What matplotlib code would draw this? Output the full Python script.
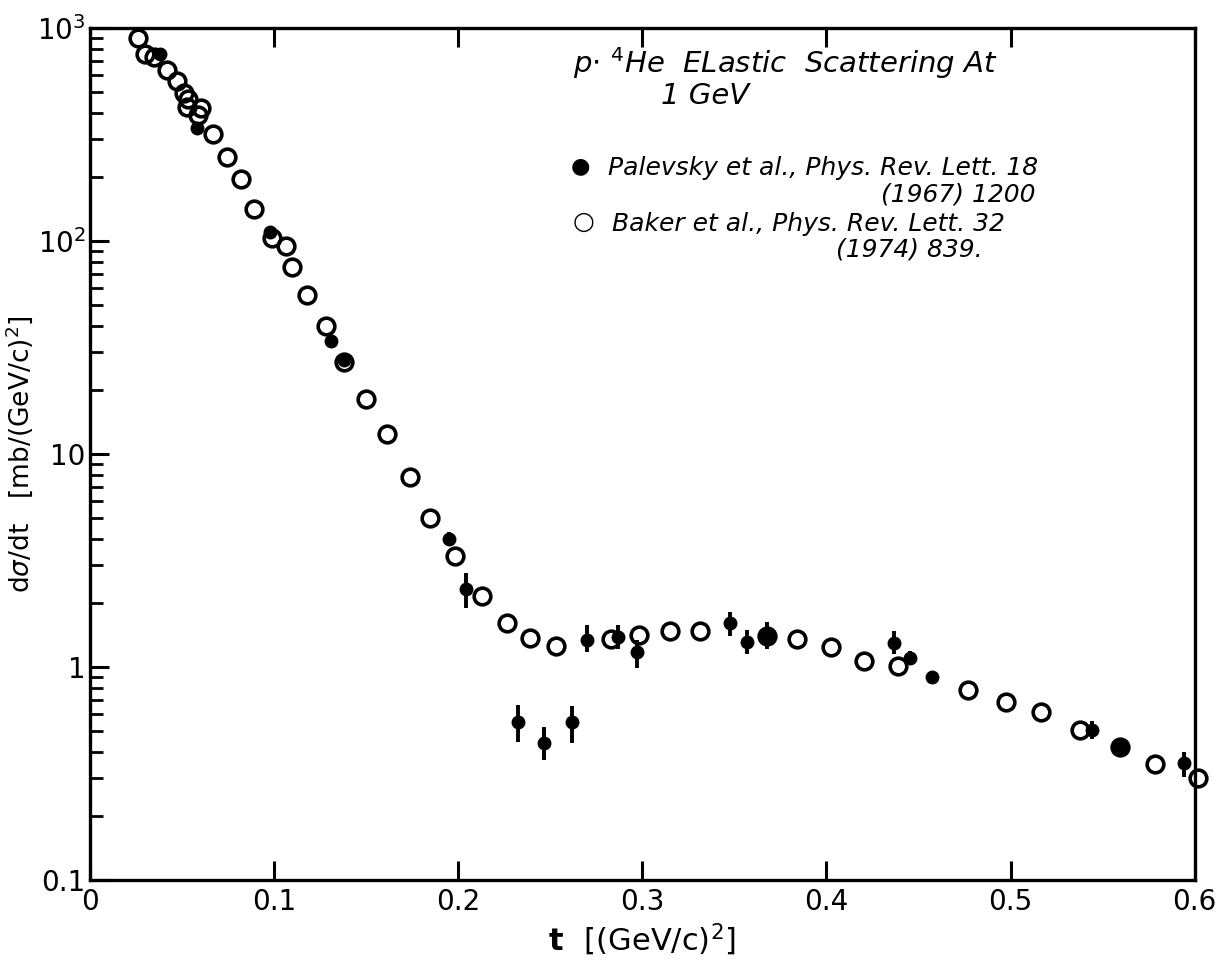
import numpy as np
import matplotlib
matplotlib.use('Agg')
import matplotlib.pyplot as plt
from matplotlib.ticker import FixedLocator, LogLocator, NullFormatter

# Baker et al. (open circles)
t_baker = [0.0261, 0.0299, 0.0347, 0.0418, 0.0472, 0.0510, 0.0532, 0.0527,
           0.0603, 0.0586, 0.0668, 0.0744, 0.0820, 0.0890, 0.0988, 0.1064,
           0.1097, 0.1178, 0.1281, 0.1379, 0.1498, 0.1612, 0.1737, 0.1846,
           0.1982, 0.2128, 0.2264, 0.2389, 0.2530, 0.2828, 0.2980, 0.3149,
           0.3312, 0.3675, 0.3838, 0.4023, 0.4202, 0.4387, 0.4767, 0.4973,
           0.5168, 0.5375, 0.5592, 0.5787, 0.6020]
y_baker = [897, 755, 731, 635, 564, 495, 464, 426,
           421, 391, 318, 248, 195, 141, 103, 95,
           75.5, 56, 40, 27, 18.1, 12.4, 7.8, 5.0,
           3.32, 2.15, 1.61, 1.37, 1.25, 1.35, 1.41, 1.48,
           1.48, 1.40, 1.35, 1.24, 1.07, 1.01, 0.78, 0.685,
           0.615, 0.506, 0.421, 0.351, 0.301]

# Palevsky et al. (filled circles with error bars)
t_pal = [0.0380, 0.0581, 0.0977, 0.1308, 0.1379, 0.1949, 0.2041, 0.2324,
         0.2465, 0.2617, 0.2698, 0.2866, 0.2970, 0.3474, 0.3567, 0.3675,
         0.4365, 0.4452, 0.4571, 0.5440, 0.5592, 0.5945]
y_pal = [755, 340, 110, 34, 27.5, 4.0, 2.32, 0.552,
         0.44, 0.552, 1.34, 1.39, 1.18, 1.61, 1.31, 1.40,
         1.30, 1.10, 0.897, 0.506, 0.421, 0.354]
y_pal_lo = [755, 340, 110, 34, 27.5, 3.8, 1.89, 0.445,
            0.366, 0.44, 1.18, 1.22, 0.99, 1.40, 1.15, 1.21,
            1.15, 1.02, 0.85, 0.46, 0.39, 0.305]
y_pal_hi = [755, 340, 110, 34, 27.5, 4.3, 2.76, 0.664,
            0.522, 0.653, 1.57, 1.58, 1.34, 1.81, 1.49, 1.62,
            1.48, 1.19, 0.95, 0.56, 0.46, 0.40]

x_ticks = [0, 0.1, 0.2, 0.3, 0.4, 0.5, 0.6]
x_ticklabels = ['0', '0.1', '0.2', '0.3', '0.4', '0.5', '0.6']
y_ticks = [0.1, 1, 10, 100, 1000]
y_ticklabels = ['0.1', '1', '10', r'$10^2$', r'$10^3$']

fig = plt.figure(figsize=(12.24, 9.73), dpi=100)
ax = fig.add_axes([0.0735, 0.0956, 0.9025, 0.8755])

yerr = [np.array(y_pal) - np.array(y_pal_lo), np.array(y_pal_hi) - np.array(y_pal)]
ax.errorbar(t_pal, y_pal, yerr=yerr, fmt='o', color='black', ms=9,
            mfc='black', mec='black', elinewidth=2.8, capsize=0, zorder=3,
            clip_on=False)
ax.plot(t_baker, y_baker, 'o', ms=12, mfc='none', mec='black', mew=2.6,
        zorder=4, clip_on=False)

ax.set_yscale('log')
ax.set_xlim(0, 0.6)
ax.set_ylim(0.1, 1000)

ax.xaxis.set_major_locator(FixedLocator(x_ticks))
ax.set_xticklabels(x_ticklabels)
ax.yaxis.set_major_locator(FixedLocator(y_ticks))
ax.set_yticklabels(y_ticklabels)
ax.yaxis.set_minor_locator(LogLocator(base=10, subs=np.arange(2, 10)))
ax.yaxis.set_minor_formatter(NullFormatter())

ax.tick_params(axis='both', which='major', direction='in', length=14, width=2.2,
               labelsize=20, pad=6)
ax.tick_params(axis='y', which='major', pad=3)
ax.tick_params(axis='y', which='minor', direction='in', length=9, width=2.0)
ax.tick_params(axis='x', top=True)
ax.tick_params(axis='y', right=False, which='both')
for s in ax.spines.values():
    s.set_linewidth(2.4)

ax.set_xlabel(r't  $[(\mathrm{GeV/c})^2]$', fontsize=22, fontweight='bold')
ax.set_ylabel(r'd$\sigma$/dt   $[\mathrm{mb/(GeV/c)^2}]$', fontsize=19)
ax.yaxis.set_label_coords(-0.05, 0.5)

hand = dict(style='italic', fontsize=21, family='DejaVu Sans', color='black')
fig.text(0.468, 0.925, r'p$\cdot$ $^4$He  ELastic  Scattering At', **hand)
fig.text(0.54, 0.893, '1 GeV', **hand)

fig.text(0.466, 0.823, '\u25cf', fontsize=16, color='black')
fig.text(0.497, 0.820, 'Palevsky et al., Phys. Rev. Lett. 18', **dict(hand, fontsize=18))
fig.text(0.72, 0.793, '(1967) 1200', **dict(hand, fontsize=18))
fig.text(0.468, 0.765, '\u25cb', fontsize=18, color='black')
fig.text(0.50, 0.763, 'Baker et al., Phys. Rev. Lett. 32', **dict(hand, fontsize=18))
fig.text(0.683, 0.736, '(1974) 839.', **dict(hand, fontsize=18))

fig.savefig('out.png', dpi=100)
